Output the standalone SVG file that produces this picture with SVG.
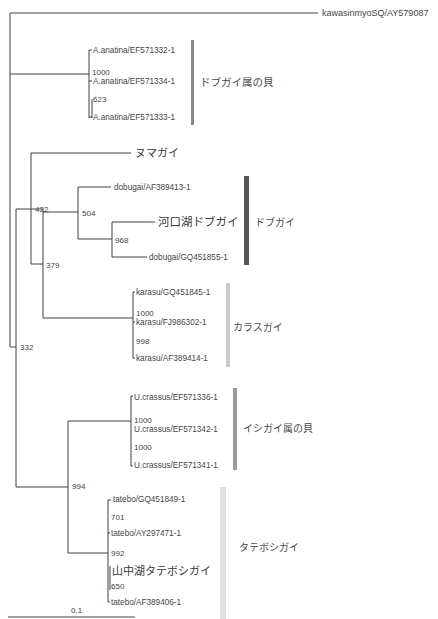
<svg xmlns="http://www.w3.org/2000/svg" width="438" height="619" viewBox="0 0 438 619">
<style>
.ln{stroke:#404040;stroke-width:1;fill:none}
.t{font-family:"Liberation Sans","Noto Sans CJK JP",sans-serif;font-size:8.2px;fill:#444}
.n{font-family:"Liberation Sans",sans-serif;font-size:8px;fill:#444}
.j{font-family:"Noto Sans CJK JP","Liberation Sans",sans-serif;font-size:10px;fill:#4a4a4a}
.jl{font-family:"Noto Sans CJK JP","Liberation Sans",sans-serif;font-size:11px;fill:#383838}
</style>
<rect width="438" height="619" fill="#fff"/>
<g id="connectors">
<path class="ln" d="M10,13 V347 M10,13 H318"/>
<path class="ln" d="M10,74 H89 M89,50 V118 M89,50 H92 M89,81 H92 M92,99 V118 M89,117 H92"/>
<path class="ln" d="M10,347 H16 M16,209 V487"/>
<path class="ln" d="M16,209 H43 M43,212 H78"/>
<path class="ln" d="M31,153 V264 M31,153 H131 M31,264 H43"/>
<path class="ln" d="M43,209 V318 M43,318 H133"/>
<path class="ln" d="M78,187 V239 M78,187 H111 M78,239 H112"/>
<path class="ln" d="M112,222 V257 M112,222 H155 M112,257 H147"/>
<path class="ln" d="M133,292 V358 M133,292 H135 M133,322 H135 M133,358 H135"/>
<path class="ln" d="M16,487 H68 M68,421 V553 M68,421 H131 M131,396 V466 M131,396 H133 M131,466 H133"/>
<path class="ln" d="M68,553 H108 M108,500 V602 M108,500 H111 M108,533 H110 M110,566 V590 M108,602 H110"/>
<path class="ln" d="M8,617 H135"/>
</g>
<g id="bars">
<rect x="191" y="40" width="3" height="85" fill="#8a8a8a"/>
<rect x="244" y="176" width="5" height="89" fill="#555"/>
<rect x="226" y="283" width="4" height="84" fill="#cbcbcb"/>
<rect x="233" y="388" width="4" height="82" fill="#9a9a9a"/>
<rect x="220" y="487" width="6" height="132" fill="#e0e0e0"/>
</g>
<g id="outgroup"><text class="t" x="322" y="16" style="font-size:9px">kawasinmyoSQ/AY579087</text></g>
<g id="anatina1"><text class="t" x="93" y="53">A.anatina/EF571332-1</text></g>
<g id="b1000a"><text class="n" x="92" y="75">1000</text></g>
<g id="anatina2"><text class="t" x="93" y="84">A.anatina/EF571334-1</text></g>
<g id="b623"><text class="n" x="93" y="102">623</text></g>
<g id="anatina3"><text class="t" x="93" y="120">A.anatina/EF571333-1</text></g>
<g id="grp-anodonta"><text class="j" x="200" y="86" style="font-size:10.5px">ドブガイ属の貝</text></g>
<g id="numagai"><text class="jl" x="135" y="157">ヌマガイ</text></g>
<g id="dobugai1"><text class="t" x="114" y="190">dobugai/AF389413-1</text></g>
<g id="b422"><text class="n" x="35" y="212">422</text></g>
<g id="b504"><text class="n" x="82" y="216">504</text></g>
<g id="kawaguchiko"><text class="jl" x="158" y="226" style="font-size:11.5px">河口湖ドブガイ</text></g>
<g id="b968"><text class="n" x="115" y="243">968</text></g>
<g id="dobugai2"><text class="t" x="149" y="260">dobugai/GQ451855-1</text></g>
<g id="grp-dobugai"><text class="j" x="255" y="226">ドブガイ</text></g>
<g id="b379"><text class="n" x="46" y="268">379</text></g>
<g id="karasu1"><text class="t" x="136" y="295">karasu/GQ451845-1</text></g>
<g id="b1000b"><text class="n" x="136" y="316">1000</text></g>
<g id="karasu2"><text class="t" x="136" y="325">karasu/FJ986302-1</text></g>
<g id="b998"><text class="n" x="136" y="344">998</text></g>
<g id="karasu3"><text class="t" x="136" y="361">karasu/AF389414-1</text></g>
<g id="grp-karasu"><text class="j" x="233" y="331">カラスガイ</text></g>
<g id="b332"><text class="n" x="20" y="350">332</text></g>
<g id="crassus1"><text class="t" x="134" y="400">U.crassus/EF571336-1</text></g>
<g id="b1000c"><text class="n" x="134" y="423">1000</text></g>
<g id="crassus2"><text class="t" x="134" y="432">U.crassus/EF571342-1</text></g>
<g id="b1000d"><text class="n" x="134" y="450">1000</text></g>
<g id="crassus3"><text class="t" x="134" y="468">U.crassus/EF571341-1</text></g>
<g id="grp-unio"><text class="j" x="243" y="432">イシガイ属の貝</text></g>
<g id="b994"><text class="n" x="72" y="489">994</text></g>
<g id="tatebo1"><text class="t" x="113" y="502">tatebo/GQ451849-1</text></g>
<g id="b701"><text class="n" x="111" y="520">701</text></g>
<g id="tatebo2"><text class="t" x="111" y="536">tatebo/AY297471-1</text></g>
<g id="b992"><text class="n" x="111" y="556">992</text></g>
<g id="yamanakako"><text class="jl" x="112" y="575">山中湖タテボシガイ</text></g>
<g id="b650"><text class="n" x="111" y="589">650</text></g>
<g id="tatebo3"><text class="t" x="111" y="605">tatebo/AF389406-1</text></g>
<g id="grp-tatebo"><text class="j" x="239" y="551">タテボシガイ</text></g>
<g id="scale"><text class="n" x="71" y="613">0.1</text></g>
</svg>
